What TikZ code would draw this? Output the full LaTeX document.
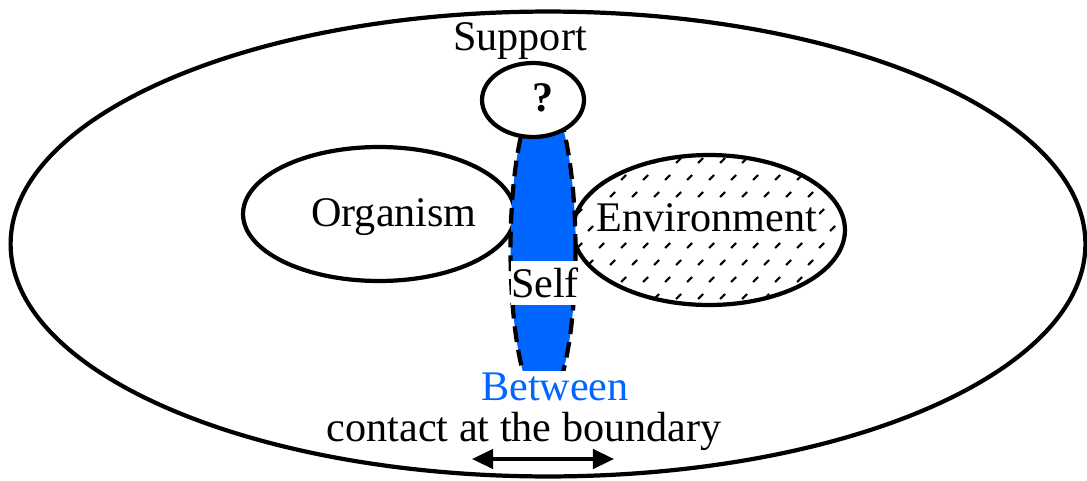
\documentclass[tikz,border=0pt]{standalone}
\usepackage{fontspec}
\setmainfont{Liberation Serif}
\usetikzlibrary{shapes.geometric,arrows.meta}
\definecolor{selfblue}{RGB}{0,102,255}

\begin{document}
\begin{tikzpicture}[x=0.02cm,y=-0.02cm,
    every node/.style={font=\fontsize{24}{28}\selectfont,inner sep=0pt},
    blob/.style={ellipse,draw,line width=2.4pt,inner sep=0pt},
    >={Triangle[length=12pt,width=11pt]}]
       \useasboundingbox (0,0) rectangle (1087,480);
       % field
       \node[blob,minimum width=21.5cm,minimum height=9.3cm] (field) at (548,244) {};
       % organism and environment
       \node[blob,minimum width=5.44cm,minimum height=2.68cm] (organism) at (379,214) {};
       \node[blob,minimum width=5.44cm,minimum height=3cm] (environment) at (709,230) {};
       \begin{scope}
         \clip (environment.center) ellipse [x radius=134, y radius=73];
         \foreach \j [evaluate=\j as \off using {mod(\j,2)*11}] in {0,...,9}
           \foreach \i in {0,...,13}
             \draw[line width=1.2pt] (566+\i*22+\off,163+\j*17) -- ++(5,-5);
       \end{scope}
       % self, between organism and environment
       \begin{scope}
         \clip (0,0) rectangle (1087,370);
         \node[blob,fill=selfblue,dash pattern=on 9pt off 4.5pt,minimum width=1.3cm,minimum height=6.2cm] (self) at (543,250) {};
       \end{scope}
       % support
       \node[blob,fill=white,minimum width=2.04cm,minimum height=1.48cm] (support) at (533,100) {};
       \node (question) at (543,98) {\bfseries ?};
       % labels
       \node (supportlabel) at (520,41) {Support};
       \node (organismlabel) at (394,217) {Organism};
       \node[fill=white,inner sep=1pt] (environmentlabel) at (707,218) {Environment};
       \node[fill=white,inner ysep=4pt] (selflabel) at (545,283) {Self};
       \node[text=selfblue] (between) at (555,387) {Between};
       \node (contact) at (524,431) {contact at the boundary};
       % contact arrow
       \coordinate (contactleft) at (472,459);
       \coordinate (contactright) at (614,459);
       \draw[line width=2pt,<->] (contactleft) -- (contactright);
\end{tikzpicture}
\end{document}
